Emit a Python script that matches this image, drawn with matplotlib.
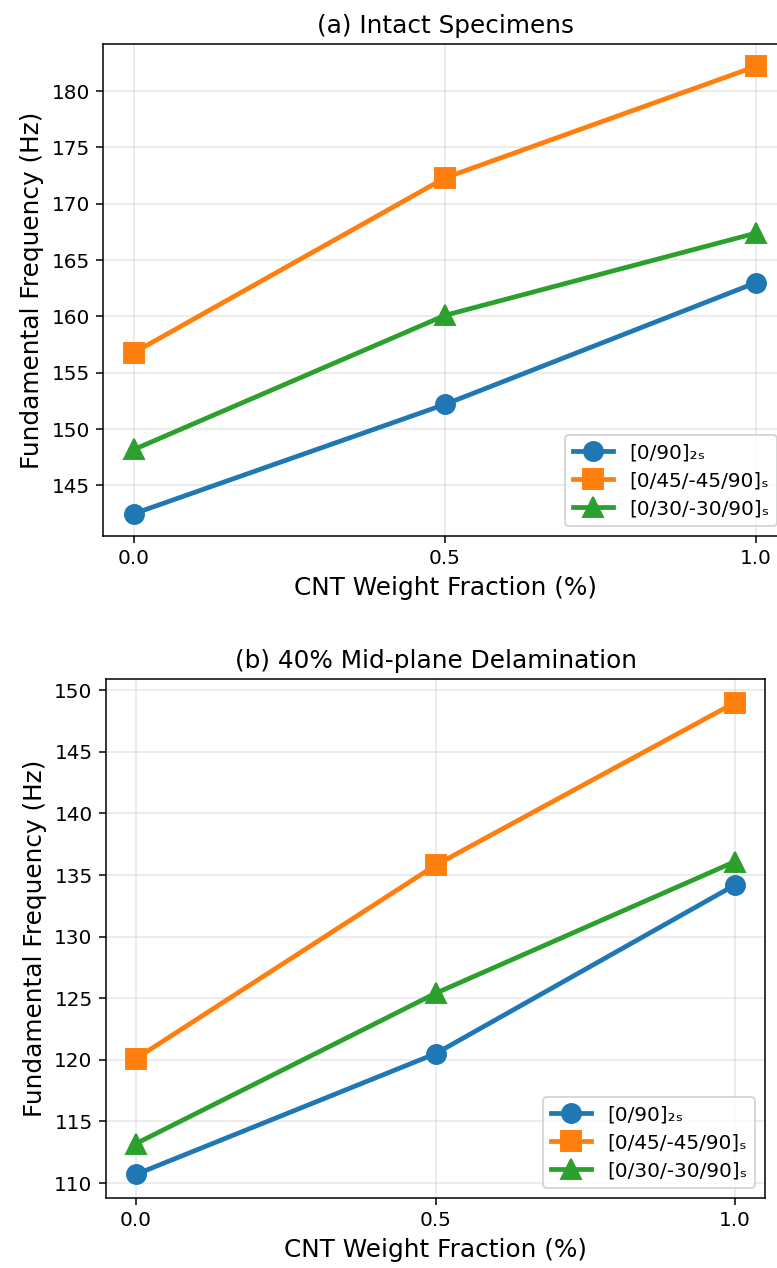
import numpy as np
import matplotlib
matplotlib.use("Agg")
import matplotlib.pyplot as plt

# CNT weight fraction (%)
cnt = [0.0, 0.5, 1.0]

labels = ["[0/90]₂ₛ", "[0/45/-45/90]ₛ", "[0/30/-30/90]ₛ"]

# (a) intact specimens, Hz
intact_090 = [142.5, 152.2, 163.0]
intact_4545 = [156.8, 172.3, 182.2]
intact_3030 = [148.2, 160.1, 167.4]

# (b) 40% mid-plane delamination, Hz
delam_090 = [110.7, 120.5, 134.2]
delam_4545 = [120.1, 135.8, 149.0]
delam_3030 = [113.2, 125.4, 136.1]

colors = ["#1f77b4", "#ff7f0e", "#2ca02c"]
markers = ["o", "s", "^"]

fig = plt.figure(figsize=(777 / 137, 1268 / 137), dpi=137)
ax1 = fig.add_axes([0.1326, 0.5773, 0.8803, 0.3880])
ax2 = fig.add_axes([0.1364, 0.0552, 0.8482, 0.4093])


def draw(ax, series, title):
    for vals, lab, c, m in zip(series, labels, colors, markers):
        ax.plot(cnt, vals, marker=m, color=c, lw=2.5, markersize=10, label=lab)
    ax.set_title(title, fontsize=13)
    ax.set_xlabel("CNT Weight Fraction (%)", fontsize=13)
    ax.set_ylabel("Fundamental Frequency (Hz)", fontsize=13)
    ax.set_xticks(cnt)
    ax.set_xticklabels(["0.0", "0.5", "1.0"])
    ax.tick_params(labelsize=10.5)
    ax.grid(True, alpha=0.3)
    ax.legend(loc="lower right", fontsize=10.5, labelspacing=0.45)


draw(ax1, [intact_090, intact_4545, intact_3030], "(a) Intact Specimens")
draw(ax2, [delam_090, delam_4545, delam_3030], "(b) 40% Mid-plane Delamination")

fig.savefig("out.png", dpi=137)
